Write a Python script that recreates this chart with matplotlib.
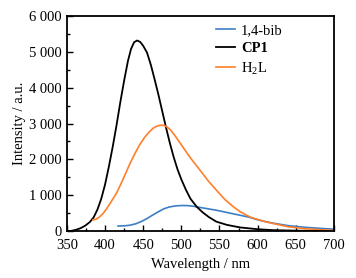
import numpy as np
import matplotlib.pyplot as plt
from matplotlib.ticker import MultipleLocator, FuncFormatter

plt.rcParams['font.family'] = ['Liberation Serif', 'DejaVu Serif']
plt.rcParams['mathtext.fontset'] = 'custom'
plt.rcParams['mathtext.rm'] = 'Liberation Serif'

# 1,4-bib (blue)
bib_x = [417, 425, 432, 440, 448, 455, 462, 470, 477, 484, 492, 500, 508, 516,
         524, 535, 546, 557, 568, 577, 590, 599, 610, 620, 640, 664, 685, 700]
bib_y = [140, 145, 160, 200, 270, 350, 440, 540, 620, 670, 700, 712, 710, 690,
         660, 620, 580, 530, 480, 440, 380, 320, 265, 220, 150, 100, 70, 50]

# CP1 (black)
cp1_x = [350, 356, 362, 368, 374, 380, 385, 390, 395, 400, 405, 410, 415, 420,
         425, 430, 434, 438, 442, 446, 450, 455, 460, 465, 470, 475, 480, 485,
         490, 495, 500, 506, 512, 520, 528, 536, 546, 560, 577, 600, 620, 650, 700]
cp1_y = [0, 5, 35, 80, 150, 250, 380, 600, 900, 1300, 1800, 2350, 2950, 3600,
         4200, 4750, 5080, 5270, 5320, 5280, 5170, 4980, 4640, 4230, 3800, 3340,
         2880, 2450, 2060, 1720, 1440, 1150, 900, 680, 520, 390, 260, 170, 100,
         50, 25, 10, 0]

# H2L (orange)
h2l_x = [384, 388, 392, 397, 402, 408, 415, 422, 428, 433, 440, 446, 452, 458,
         463, 468, 473, 477, 481, 486, 492, 498, 504, 512, 520, 528, 536, 546,
         557, 568, 577, 590, 599, 610, 620, 640, 664, 700]
h2l_y = [310, 330, 380, 480, 620, 820, 1060, 1370, 1660, 1900, 2200, 2430, 2620,
         2770, 2870, 2930, 2955, 2950, 2910, 2820, 2650, 2470, 2280, 2040, 1820,
         1600, 1380, 1140, 880, 680, 540, 390, 330, 260, 210, 120, 60, 15]

fig = plt.figure(figsize=(3.56, 2.78), dpi=100)
ax = fig.add_axes([0.188, 0.169, 0.75, 0.773])

ax.plot(bib_x, bib_y, color='#3d7fc4', lw=1.2, label='1,4-bib')
ax.plot(cp1_x, cp1_y, color='black', lw=1.3, label='CP1')
ax.plot(h2l_x, h2l_y, color='#ff7f2a', lw=1.2, label='H$_2$L')

ax.set_xlim(350, 700)
ax.set_ylim(0, 6000)
ax.xaxis.set_major_locator(MultipleLocator(50))
ax.xaxis.set_minor_locator(MultipleLocator(25))
ax.yaxis.set_major_locator(MultipleLocator(1000))
ax.yaxis.set_minor_locator(MultipleLocator(500))
ax.yaxis.set_major_formatter(FuncFormatter(lambda v, p: f'{int(v):,}'.replace(',', ' ')))
ax.tick_params(which='both', direction='in', top=False, right=False, labelsize=10.5)
ax.tick_params(which='major', length=4, width=1)
ax.tick_params(which='minor', length=2.5, width=1)
ax.tick_params(axis='x', pad=6)
ax.tick_params(axis='y', pad=4)
for s in ax.spines.values():
    s.set_linewidth(1.3)

ax.set_xlabel('Wavelength / nm', fontsize=10.5, labelpad=4)
ax.set_ylabel('Intensity / a.u.', fontsize=10.5)
ax.yaxis.set_label_coords(-0.155, 0.5)

leg = ax.legend(loc='upper left', frameon=False, fontsize=10.5, handlelength=1.3,
                handletextpad=0.45, labelspacing=0.32, borderaxespad=0,
                bbox_to_anchor=(0.535, 0.99))
leg.get_texts()[1].set_fontweight('bold')

fig.savefig('out.png', dpi=100)
